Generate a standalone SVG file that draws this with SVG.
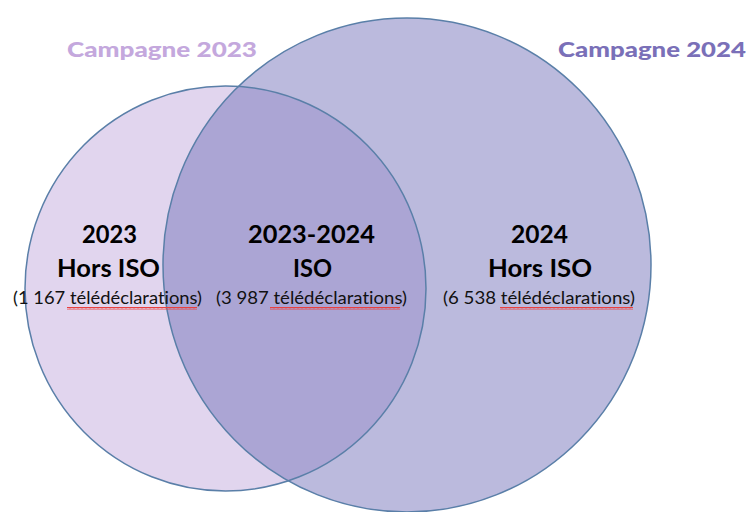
<svg xmlns="http://www.w3.org/2000/svg" width="751" height="512" viewBox="0 0 751 512">
  <style>
    text { font-family: Lato, "Open Sans", sans-serif; font-variant-ligatures: none; }
    .title { font-weight: 900; font-size: 21px; }
    .big { font-weight: bold; font-size: 25px; fill: #000; text-anchor: middle; }
    .small { font-size: 17px; fill: #111; text-anchor: middle; }
    .edge { fill: none; stroke: #5A7FA8; stroke-width: 1.5; }
  </style>
  <defs>
    <clipPath id="clip2023">
      <ellipse cx="225.5" cy="288.5" rx="200.5" ry="202.5"/>
    </clipPath>
    <pattern id="squiggle" x="0" y="0" width="4" height="3" patternUnits="userSpaceOnUse">
      <path d="M0 2.5 L1 0.5 L2 2.5 L3 0.5 L4 2.5" fill="none" stroke="#E8403F" stroke-width="1"/>
    </pattern>
  </defs>
  <rect width="751" height="512" fill="#fff"/>

  <g id="set-2023">
    <ellipse cx="225.5" cy="288.5" rx="200.5" ry="202.5" fill="#E1D5EE"/>
  </g>
  <g id="set-2024">
    <ellipse cx="407" cy="265" rx="244" ry="247" fill="#BBBADD"/>
  </g>
  <g id="overlap">
    <ellipse cx="407" cy="265" rx="244" ry="247" fill="#ABA5D4" clip-path="url(#clip2023)"/>
  </g>
  <g id="outlines">
    <ellipse class="edge" cx="225.5" cy="288.5" rx="200.5" ry="202.5"/>
    <ellipse class="edge" cx="407" cy="265" rx="244" ry="247"/>
  </g>

  <g id="labels">
    <text class="title" x="67" y="57" fill="#C4A8DD" textLength="190" lengthAdjust="spacingAndGlyphs">Campagne 2023</text>
    <text class="title" x="558" y="57" fill="#7A70B8" textLength="188" lengthAdjust="spacingAndGlyphs">Campagne 2024</text>
  </g>

  <g id="region-2023">
    <text class="big" x="109.5" y="243" textLength="55" lengthAdjust="spacingAndGlyphs">2023</text>
    <text class="big" x="108.5" y="277" textLength="103" lengthAdjust="spacingAndGlyphs">Hors ISO</text>
    <text class="small" x="107.5" y="304" textLength="189" lengthAdjust="spacingAndGlyphs">(1 167 télédéclarations)</text>
    <rect x="67" y="307" width="130" height="3" fill="url(#squiggle)"/>
  </g>
  <g id="region-both">
    <text class="big" x="311.5" y="243" textLength="127" lengthAdjust="spacingAndGlyphs">2023-2024</text>
    <text class="big" x="312.5" y="277" textLength="39" lengthAdjust="spacingAndGlyphs">ISO</text>
    <text class="small" x="311.5" y="304" textLength="191" lengthAdjust="spacingAndGlyphs">(3 987 télédéclarations)</text>
    <rect x="270" y="307" width="130" height="3" fill="url(#squiggle)"/>
  </g>
  <g id="region-2024">
    <text class="big" x="539.5" y="243" textLength="57" lengthAdjust="spacingAndGlyphs">2024</text>
    <text class="big" x="540" y="277" textLength="104" lengthAdjust="spacingAndGlyphs">Hors ISO</text>
    <text class="small" x="539" y="304" textLength="192" lengthAdjust="spacingAndGlyphs">(6 538 télédéclarations)</text>
    <rect x="500" y="307" width="133" height="3" fill="url(#squiggle)"/>
  </g>
</svg>
